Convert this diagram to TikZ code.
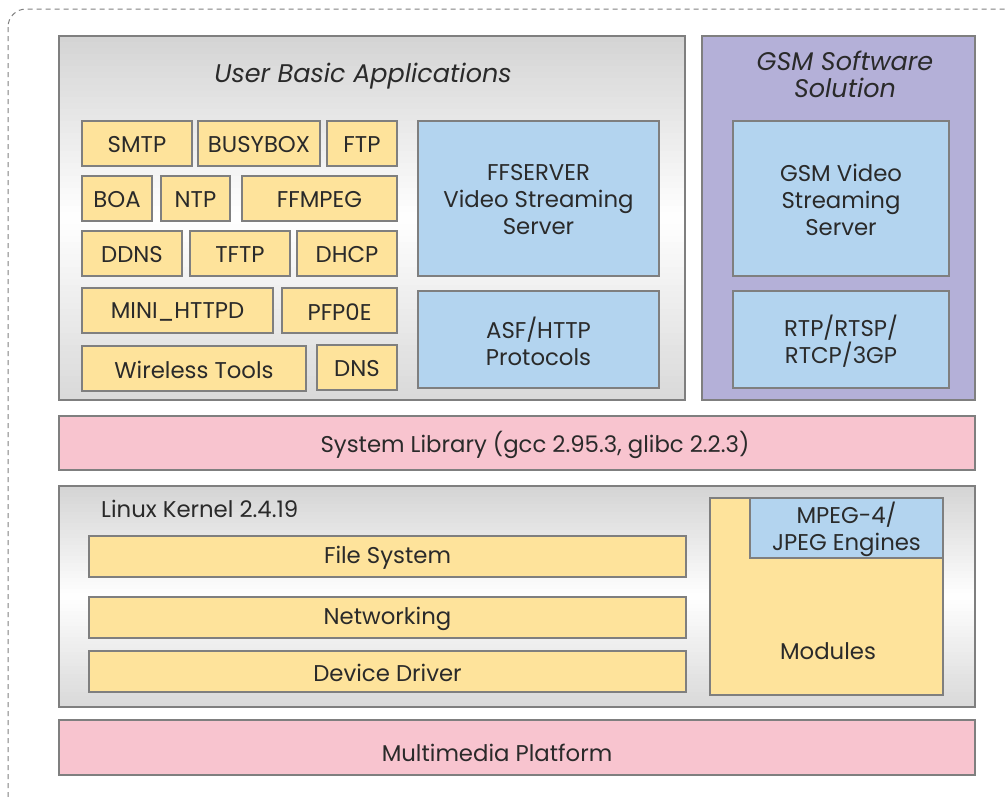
\documentclass[tikz,border=0pt]{standalone}
\usepackage{fontspec}
\setmainfont{Poppins}
\usetikzlibrary{fit}
\definecolor{yel}{HTML}{FEE39B}
\definecolor{blu}{HTML}{B3D4EF}
\definecolor{pnk}{HTML}{F8C4CF}
\definecolor{pur}{HTML}{B4B0D8}
\definecolor{bord}{HTML}{7F7F7F}
\definecolor{txt}{HTML}{2A2A2A}
\newcommand{\gradbox}[5]{% x1 y1 x2 y2 topdepth
  \pgfmathsetmacro\gbh{(#4-#2)/60}
  \foreach \i in {0,...,59}{
    \pgfmathsetmacro\gbt{(\i+0.5)/60}
    \pgfmathsetmacro\gbv{\gbt<0.5 ? #5*(1-2*\gbt) : 15*(2*\gbt-1)}
    \fill[black!\gbv] (#1,{#2+\i*\gbh}) rectangle (#3,{#2+(\i+1)*\gbh+0.6});
  }}
\begin{document}
\begin{tikzpicture}[x=1pt,y=-1pt,
  base/.style={draw=bord, line width=1.2pt, inner sep=0pt},
  ybox/.style={base, fill=yel},
  bbox/.style={base, fill=blu},
  pbox/.style={base, fill=pnk},
  lbl/.style={text=txt, font=\fontsize{22.8}{27}\selectfont, align=center, inner sep=0pt, yshift=-1.5pt},
  title/.style={lbl, font=\fontsize{25.5}{27}\selectfont\itshape}]
\useasboundingbox (0,0) rectangle (1008,796);
\fill[white] (0,0) rectangle (1008,796);
% outer dashed frame (cut off at right and bottom)
\begin{scope}
\clip (0,0) rectangle (1008,796);
\draw[gray, line width=1pt, dash pattern=on 5pt off 4pt, rounded corners=18pt] (8,9) rectangle (1030,820);
\end{scope}
% User Basic Applications
\gradbox{59}{36}{685}{400}{17}
\node[base, fit={(59,36)(685,400)}] (uba) {};
\node[title] (ubat) at (363,75) {User Basic Applications};
% GSM
\node[base, fill=pur, fit={(702,36)(975,400)}] (gsm) {};
\node[title] (gsmt) at (845,73) {GSM Software\\Solution};
\node[bbox, fit={(733,121)(949,276)}] (gsmv) {};
\node[lbl] at (gsmv.center) {GSM Video\\Streaming\\Server};
\node[bbox, fit={(733,291)(949,388)}] (rtp) {};
\node[lbl] at (rtp.center) {RTP/RTSP/\\RTCP/3GP};
% FFSERVER
\node[bbox, fit={(418,121)(659,276)}] (ffs) {};
\node[lbl] at (ffs.center) {FFSERVER\\Video Streaming\\Server};
\node[bbox, fit={(418,291)(659,388)}] (asf) {};
\node[lbl] at (asf.center) {ASF/HTTP\\Protocols};
% small yellow boxes
\node[ybox, fit={(82,121)(192,166)}] (smtp) {};
\node[lbl] at (smtp.center) {SMTP};
\node[ybox, fit={(198,121)(320,166)}] (busy) {};
\node[lbl] at (busy.center) {BUSYBOX};
\node[ybox, fit={(327,121)(397,166)}] (ftp) {};
\node[lbl] at (ftp.center) {FTP};
\node[ybox, fit={(82,176)(152,221)}] (boa) {};
\node[lbl] at (boa.center) {BOA};
\node[ybox, fit={(161,176)(230,221)}] (ntp) {};
\node[lbl] at (ntp.center) {NTP};
\node[ybox, fit={(242,176)(397,221)}] (ffm) {};
\node[lbl] at (ffm.center) {FFMPEG};
\node[ybox, fit={(82,231)(182,276)}] (ddns) {};
\node[lbl] at (ddns.center) {DDNS};
\node[ybox, fit={(190,231)(290,276)}] (tftp) {};
\node[lbl] at (tftp.center) {TFTP};
\node[ybox, fit={(297,231)(397,276)}] (dhcp) {};
\node[lbl] at (dhcp.center) {DHCP};
\node[ybox, fit={(82,288)(273,333)}] (mini) {};
\node[lbl] at (mini.center) {MINI\_HTTPD};
\node[ybox, fit={(282,288)(397,333)}] (pfp) {};
\node[lbl] at (pfp.center) {PFP0E};
\node[ybox, fit={(82,346)(306,391)}] (wt) {};
\node[lbl] at (wt.center) {Wireless Tools};
\node[ybox, fit={(317,345)(397,390)}] (dns) {};
\node[lbl] at (dns.center) {DNS};
% System library
\node[pbox, fit={(59,416)(975,470)}] (sys) {};
\node[lbl] at (535,443) {System Library (gcc 2.95.3, glibc 2.2.3)};
% Kernel
\gradbox{59}{486}{975}{707}{17}
\node[base, fit={(59,486)(975,707)}] (kern) {};
\node[lbl, anchor=west] (kernt) at (101,507) {Linux Kernel 2.4.19};
\node[ybox, fit={(89,536)(686,577)}] (fs) {};
\node[lbl] at (fs.center) {File System};
\node[ybox, fit={(89,597)(686,638)}] (net) {};
\node[lbl] at (net.center) {Networking};
\node[ybox, fit={(89,651)(686,692)}] (dd) {};
\node[lbl] at (dd.center) {Device Driver};
\node[ybox, fit={(710,498)(943,695)}] (mod) {};
\node[lbl] (modt) at (828,650) {Modules};
\node[bbox, fit={(750,498)(943,558)}] (mpeg) {};
\node[lbl] at (mpeg.center) {MPEG-4/\\JPEG Engines};
% Multimedia platform
\node[pbox, fit={(59,720)(975,775)}] (mm) {};
\node[lbl] at (497,751) {Multimedia Platform};
\end{tikzpicture}
\end{document}
